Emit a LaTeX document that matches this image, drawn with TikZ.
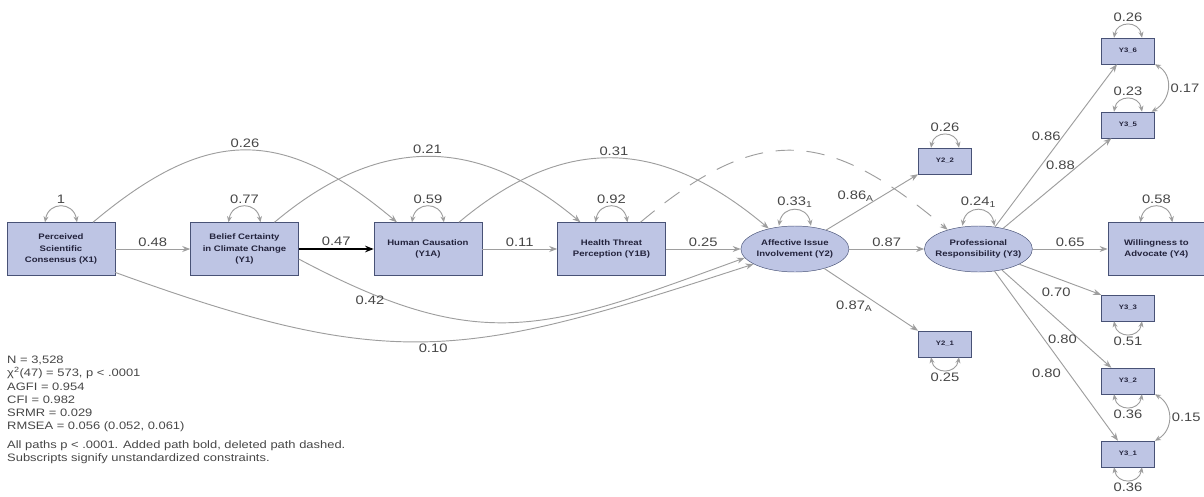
\documentclass[tikz,border=0pt]{standalone}
\usepackage{fontspec}
\setmainfont[FakeStretch=1.2]{Liberation Sans}
\usetikzlibrary{arrows.meta,positioning,shapes.geometric}
\definecolor{boxblue}{RGB}{190,197,228}
\definecolor{edgeblue}{RGB}{72,82,118}
\definecolor{pathgray}{RGB}{158,158,158}
\definecolor{coefgray}{RGB}{70,70,70}
\definecolor{boxtext}{RGB}{35,35,60}
\tikzset{
  box/.style={
    rectangle,
    draw=edgeblue,
    fill=boxblue,
    align=center,
    text=boxtext,
    minimum width=3.24cm,
    minimum height=1.59cm,
    inner sep=1pt,
    font=\fontsize{6.8}{9.6}\selectfont\bfseries
  },
  latent/.style={
    ellipse,
    draw=edgeblue,
    fill=boxblue,
    align=center,
    text=boxtext,
    minimum width=3.24cm,
    minimum height=1.38cm,
    inner xsep=-2mm,
    inner ysep=0pt,
    font=\fontsize{6.8}{9.6}\selectfont\bfseries
  },
  item/.style={
    rectangle,
    draw=edgeblue,
    fill=boxblue,
    text=boxtext,
    minimum width=1.6cm,
    minimum height=0.78cm,
    font=\fontsize{5.5}{6.5}\selectfont\bfseries
  },
  coef/.style={text=coefgray, inner sep=2pt, font=\fontsize{10.5}{12}\selectfont},
  stats/.style={text=coefgray, align=left, inner sep=0pt, font=\fontsize{9.2}{11.2}\selectfont},
  arrow/.style={-{Stealth[length=2.4mm,width=1.8mm]}, draw=pathgray, line width=0.8pt},
  added/.style={-{Stealth[length=2.6mm,width=2mm]}, draw=black, line width=1.4pt},
  deleted/.style={-{Stealth[length=2.4mm,width=1.8mm]}, draw=pathgray, line width=0.8pt,
    dash pattern=on 5.5mm off 3.8mm},
  twoway/.style={{Stealth[length=1.8mm,width=1.5mm]}-{Stealth[length=1.8mm,width=1.5mm]},
    draw=pathgray, line width=0.8pt}
}

\begin{document}
\begin{tikzpicture}[x=0.03cm, y=-0.03cm, node distance=2.25cm]
    \useasboundingbox (0,0) rectangle (1204,496);

    \node[box] (consensus) at (61,249) {Perceived\\Scientific\\Consensus (X1)};
    \node[box, right=of consensus] (certainty) {Belief Certainty\\in Climate Change\\(Y1)};
    \node[box, right=of certainty] (causation) {Human Causation\\(Y1A)};
    \node[box, right=of causation] (threat) {Health Threat\\Perception (Y1B)};
    \node[latent, right=of threat] (affect) {Affective Issue\\Involvement (Y2)};
    \node[latent, right=of affect] (resp) {Professional\\Responsibility (Y3)};
    \node[box, right=of resp, minimum width=2.91cm] (advocate) {Willingness to\\Advocate (Y4)};

    \node[item] (aff2) at (945,161) {Y2\_2};
    \node[item] (aff1) at (945,344) {Y2\_1};
    \node[item] (resp6) at (1128,51) {Y3\_6};
    \node[item] (resp5) at (1128,125) {Y3\_5};
    \node[item] (resp3) at (1128,308) {Y3\_3};
    \node[item] (resp2) at (1128,381) {Y3\_2};
    \node[item] (resp1) at (1128,454) {Y3\_1};

    \node[stats, anchor=north west] (fitstats) at (7,356) {N = 3,528\\
      χ\textsuperscript{2}(47) = 573, p < .0001\\
      AGFI = 0.954\\
      CFI = 0.982\\
      SRMR = 0.029\\
      RMSEA = 0.056 (0.052, 0.061)\\[5pt]
      All paths p < .0001. Added path bold, deleted path dashed.\\
      Subscripts signify unstandardized constraints.};

    % main chain
    \draw[arrow] (consensus) -- node[coef, above] {0.48} (certainty);
    \draw[added] (certainty) -- node[coef, above] {0.47} (causation);
    \draw[arrow] (causation) -- node[coef, above] {0.11} (threat);
    \draw[arrow] (threat) -- node[coef, above] {0.25} (affect);
    \draw[arrow] (affect) -- node[coef, above] {0.87} (resp);
    \draw[arrow] (resp) -- node[coef, above] {0.65} (advocate);

    % paths over the top
    \draw[arrow] ([xshift=0.96cm]consensus.north) to[out=40, in=140, looseness=1.26]
      node[coef, above] {0.26} ([xshift=-0.93cm]causation.north);
    \draw[arrow] ([xshift=0.9cm]certainty.north) to[out=40, in=140, looseness=1.14]
      node[coef, above] {0.21} ([xshift=-0.93cm]threat.north);
    \draw[arrow] ([xshift=0.93cm]causation.north) to[out=40, in=140, looseness=1.15]
      node[coef, above] {0.31} (affect.142);
    \draw[deleted] ([xshift=0.87cm]threat.north) to[out=40, in=140, looseness=1.3] (resp.148);

    % paths underneath
    \draw[arrow] ([yshift=-0.3cm]certainty.east) to[out=-28, in=200, looseness=1.2]
      node[coef, below, pos=0.14] {0.42} (affect.190);
    \draw[arrow] ([yshift=0.1cm]consensus.south east) to[out=-20, in=198, looseness=1.2]
      node[coef, below] {0.10} (affect.200);

    % indicators
    \draw[arrow] (affect) -- node[coef, above=2.5mm, pos=0.32] {0.86\textsubscript{A}} (aff2.south west);
    \draw[arrow] (affect) -- node[coef, below=3mm, pos=0.32] {0.87\textsubscript{A}} (aff1.north west);
    \draw[arrow] (resp) -- node[coef, left, pos=0.56] {0.86} ([xshift=-0.33cm]resp6.south);
    \draw[arrow] (resp) -- node[coef, above=2.5mm, pos=0.53] {0.88} ([xshift=-0.5cm]resp5.south);
    \draw[arrow] (resp) -- node[coef, below=2mm, pos=0.45] {0.70} (resp3.north west);
    \draw[arrow] (resp) -- node[coef, left, pos=0.71] {0.80} ([xshift=-0.5cm]resp2.north);
    \draw[arrow] (resp) -- node[coef, left=1.5mm, pos=0.6] {0.80} ([xshift=-0.3cm]resp1.north);

    % variances
    \draw[twoway] ([xshift=-0.48cm]consensus.north) to[out=80, in=100, looseness=1.7]
      node[coef, above] {1} ([xshift=0.48cm]consensus.north);
    \draw[twoway] ([xshift=-0.48cm]certainty.north) to[out=80, in=100, looseness=1.7]
      node[coef, above] {0.77} ([xshift=0.48cm]certainty.north);
    \draw[twoway] ([xshift=-0.48cm]causation.north) to[out=80, in=100, looseness=1.7]
      node[coef, above] {0.59} ([xshift=0.48cm]causation.north);
    \draw[twoway] ([xshift=-0.48cm]threat.north) to[out=80, in=100, looseness=1.7]
      node[coef, above] {0.92} ([xshift=0.48cm]threat.north);
    \draw[twoway] ([xshift=-0.48cm]affect.north) to[out=80, in=100, looseness=1.7]
      node[coef, above] {0.33\textsubscript{1}} ([xshift=0.48cm]affect.north);
    \draw[twoway] ([xshift=-0.48cm]resp.north) to[out=80, in=100, looseness=1.7]
      node[coef, above] {0.24\textsubscript{1}} ([xshift=0.48cm]resp.north);
    \draw[twoway] ([xshift=-0.48cm]advocate.north) to[out=80, in=100, looseness=1.7]
      node[coef, above] {0.58} ([xshift=0.48cm]advocate.north);
    \draw[twoway] ([xshift=-0.42cm]aff2.north) to[out=80, in=100, looseness=1.6]
      node[coef, above] {0.26} ([xshift=0.42cm]aff2.north);
    \draw[twoway] ([xshift=-0.42cm]aff1.south) to[out=-80, in=-100, looseness=1.6]
      node[coef, below] {0.25} ([xshift=0.42cm]aff1.south);
    \draw[twoway] ([xshift=-0.42cm]resp6.north) to[out=80, in=100, looseness=1.6]
      node[coef, above] {0.26} ([xshift=0.42cm]resp6.north);
    \draw[twoway] ([xshift=-0.42cm]resp5.north) to[out=80, in=100, looseness=1.6]
      node[coef, above] {0.23} ([xshift=0.42cm]resp5.north);
    \draw[twoway] ([xshift=-0.42cm]resp3.south) to[out=-80, in=-100, looseness=1.6]
      node[coef, below] {0.51} ([xshift=0.42cm]resp3.south);
    \draw[twoway] ([xshift=-0.42cm]resp2.south) to[out=-80, in=-100, looseness=1.6]
      node[coef, below] {0.36} ([xshift=0.42cm]resp2.south);
    \draw[twoway] ([xshift=-0.42cm]resp1.south) to[out=-80, in=-100, looseness=1.6]
      node[coef, below] {0.36} ([xshift=0.42cm]resp1.south);

    % covariances
    \draw[twoway] (resp6.south east) to[out=-30, in=30, looseness=1.2]
      node[coef, right] {0.17} ([xshift=-0.1cm]resp5.north east);
    \draw[twoway] (resp2.south east) to[out=-30, in=30, looseness=1.2]
      node[coef, right] {0.15} (resp1.north east);
\end{tikzpicture}
\end{document}
